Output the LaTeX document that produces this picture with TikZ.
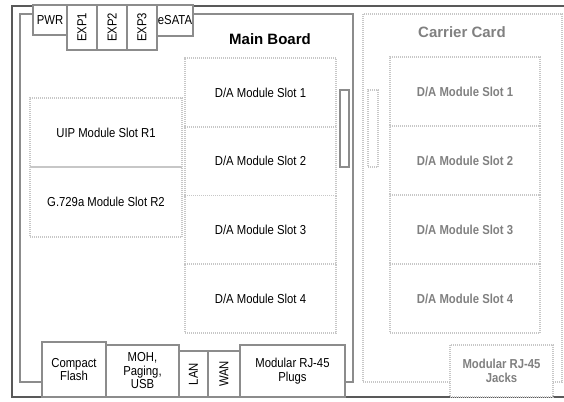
\documentclass[tikz,border=0pt]{standalone}
\usepackage{fontspec}
\setmainfont{Liberation Sans}
\newfontfamily\slotfont[FakeStretch=0.87]{Liberation Sans}
\usepackage{tikz}

\begin{document}
\begin{tikzpicture}[x=1pt,y=-1pt]
\tikzset{hwbox/.style={draw=black!45,line width=1.4pt,fill=white,inner sep=0pt,align=center,font=\slotfont\fontsize{13}{13.5}\selectfont}};
\tikzset{slotbox/.style={draw=black!22,line width=1.6pt,dash pattern=on 1pt off 1pt,inner sep=0pt,align=center,font=\slotfont\fontsize{13}{13.5}\selectfont}};
\tikzset{carslot/.style={slotbox,text=black!50,font=\slotfont\bfseries\fontsize{13}{13.5}\selectfont}};
\tikzset{title/.style={inner sep=0pt,font=\bfseries\fontsize{15}{18}\selectfont}};
\useasboundingbox (0,0) rectangle (564,401);
% outer frame and the two boards
\draw[black!65,line width=2.5pt] (564,6) -- (12,6) -- (12,397) -- (564,397);
\node[draw=black!45,line width=2pt,minimum width=333pt,minimum height=368pt] (mainboard) at (186.5,198) {};
\node[slotbox,minimum width=199pt,minimum height=368pt] (carrier) at (462.5,198) {};
\node[title] (mainlbl) at (270,39) {Main Board};
\node[title,text=black!50] (carlbl) at (462,32) {Carrier Card};
% main board slots
\node[slotbox,minimum width=152pt,minimum height=69pt] (uip) at (106,132.5) {UIP Module Slot R1};
\node[slotbox,minimum width=152pt,minimum height=70pt] (gsev) at (106,202) {G.729a Module Slot R2};
\node[slotbox,minimum width=151pt,minimum height=68.75pt] (mda1) at (260.5,92.4) {D/A Module Slot 1};
\node[slotbox,minimum width=151pt,minimum height=68.75pt] (mda2) at (260.5,161.1) {D/A Module Slot 2};
\node[slotbox,minimum width=151pt,minimum height=68.75pt] (mda3) at (260.5,229.9) {D/A Module Slot 3};
\node[slotbox,minimum width=151pt,minimum height=68.75pt] (mda4) at (260.5,298.6) {D/A Module Slot 4};
\node[hwbox,minimum width=9pt,minimum height=77pt] (conn) at (344.5,128.5) {};
% carrier card slots
\node[slotbox,minimum width=10pt,minimum height=77pt] (mate) at (373,128.5) {};
\node[carslot,minimum width=150pt,minimum height=69pt] (cda1) at (465,91.5) {D/A Module Slot 1};
\node[carslot,minimum width=150pt,minimum height=69pt] (cda2) at (465,160.5) {D/A Module Slot 2};
\node[carslot,minimum width=150pt,minimum height=69pt] (cda3) at (465,229.5) {D/A Module Slot 3};
\node[carslot,minimum width=150pt,minimum height=69pt] (cda4) at (465,298.5) {D/A Module Slot 4};
\node[carslot,fill=white,minimum width=103pt,minimum height=52pt] (jacks) at (501.5,371) {Modular RJ-45\\Jacks};
% top connectors
\node[hwbox,minimum width=34pt,minimum height=30pt] (pwr) at (50,20) {PWR};
\node[hwbox,rotate=90,minimum width=45pt,minimum height=30pt] (exp1) at (82,27.5) {EXP1};
\node[hwbox,rotate=90,minimum width=45pt,minimum height=30pt] (exp2) at (112,27.5) {EXP2};
\node[hwbox,rotate=90,minimum width=45pt,minimum height=30pt] (exp3) at (142,27.5) {EXP3};
\node[hwbox,minimum width=36pt,minimum height=31pt] (esata) at (175,20.5) {eSATA};
% bottom connectors
\node[hwbox,minimum width=64pt,minimum height=55pt] (cflash) at (74,369.5) {Compact\\Flash};
\node[hwbox,minimum width=73pt,minimum height=52pt] (moh) at (142.5,371) {MOH,\\Paging,\\USB};
\node[hwbox,rotate=90,minimum width=46pt,minimum height=29pt] (lan) at (193.5,374) {LAN};
\node[hwbox,rotate=90,minimum width=46pt,minimum height=32pt] (wan) at (224,374) {WAN};
\node[hwbox,minimum width=105pt,minimum height=52pt] (plugs) at (292.5,371) {Modular RJ-45\\Plugs};
\end{tikzpicture}
\end{document}
